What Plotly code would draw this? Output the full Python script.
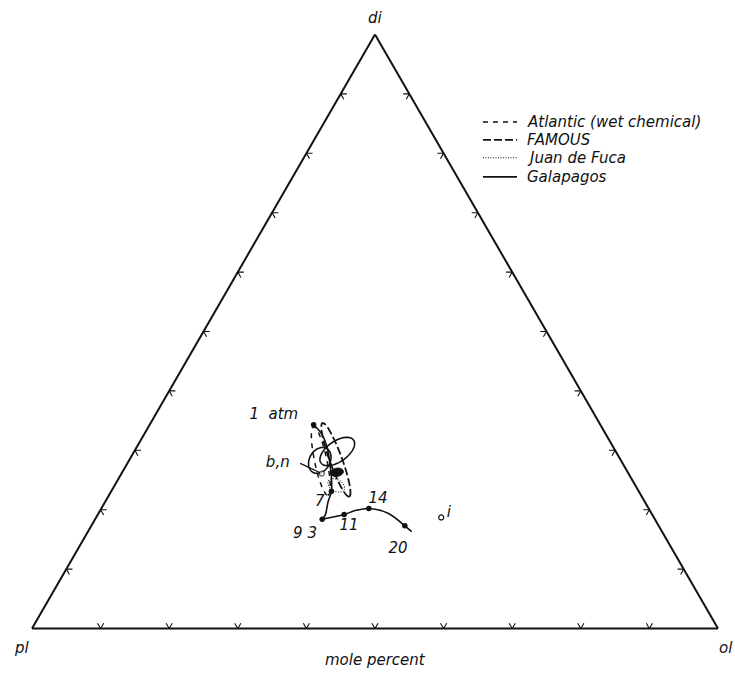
import math
import plotly.graph_objects as go

# Compositions are in mole percent: di (top), pl (bottom left), ol (bottom right).
# pl is the remainder 100 - di - ol.

# Experimental cotectic trace from 1 atm down to the 9/3 kbar point
trunk_di = [34.3, 32.8, 30.6, 27.5, 25.3, 23.1, 21.3, 19.1, 18.4]
trunk_ol = [23.9, 25.8, 27.7, 29.7, 31.0, 32.1, 32.5, 33.2, 33.1]

# High-pressure trace from 9/3 kbar to beyond 20 kbar
hp_di = [18.4, 19.2, 19.9, 20.2, 19.4, 17.3, 16.3]
hp_ol = [33.1, 35.9, 37.3, 39.0, 42.2, 45.7, 47.2]

# Labelled pressure points (kbar)
press_labels = ["1 atm", "7", "9 3", "11", "14", "20"]
press_di = [34.3, 23.1, 18.4, 19.2, 20.2, 17.3]
press_ol = [23.9, 32.1, 33.1, 35.9, 39.0, 45.7]

# Isolated composition i
pt_i_di = [18.7]
pt_i_ol = [50.3]

# b,n composition and the start of its leader line
bn_di = [27.8, 26.1]
bn_ol = [25.2, 29.2]

# Solid cluster centre
blob_di = 26.3
blob_ol = 31.3

# Glass compositional fields (ellipses): centre, semi-axes (mol %), tilt (deg)
ell_suite = ["Galapagos", "Galapagos", "FAMOUS", "Atlantic (wet chemical)", "Juan de Fuca"]
ell_di = [29.8, 28.3, 28.4, 28.2, 24.1]
ell_ol = [29.6, 27.8, 30.1, 28.0, 32.3]
ell_major = [2.9, 2.0, 5.7, 5.1, 1.3]
ell_minor = [1.5, 1.5, 0.9, 0.9, 0.85]
ell_angle = [35, 60, -70, -78, -30]

# Legend order and line styles of the suites
suite_order = ["Atlantic (wet chemical)", "FAMOUS", "Juan de Fuca", "Galapagos"]
suite_dash = {
    "Atlantic (wet chemical)": "5px,5px",
    "FAMOUS": "8px,3px",
    "Juan de Fuca": "1px,1.5px",
    "Galapagos": "solid",
}
suite_width = {
    "Atlantic (wet chemical)": 1.5,
    "FAMOUS": 1.8,
    "Juan de Fuca": 1.1,
    "Galapagos": 1.6,
}

tick_values = [10, 20, 30, 40, 50, 60, 70, 80, 90]

FONT = "DejaVu Sans"
INK = "#111111"
TXT = dict(family=FONT, size=15, color=INK)

# Where each label sits relative to its point, in mol % (d_di, d_ol)
label_offset = {
    "1 atm": (1.6, -6.6),
    "7": (-1.8, -0.8),
    "9 3": (-2.5, -1.25),
    "11": (-1.95, 1.7),
    "14": (1.6, 0.55),
    "20": (-3.9, 0.95),
    "i": (0.7, 0.75),
    "b,n": (0.05, -3.3),
}


def pl_of(di, ol):
    return [None if a is None else round(100 - a - c, 3) for a, c in zip(di, ol)]


def tern_ellipse(di0, ol0, major, minor, angle, n=120):
    th = math.radians(angle)
    di, ol = [], []
    for k in range(n + 1):
        t = 2 * math.pi * k / n
        dx = major * math.cos(th) * math.cos(t) - minor * math.sin(th) * math.sin(t)
        dy = major * math.sin(th) * math.cos(t) + minor * math.cos(th) * math.sin(t)
        da = dy / (math.sqrt(3) / 2)
        dc = dx - da / 2
        di.append(di0 + da)
        ol.append(ol0 + dc)
    return di, ol


fig = go.Figure()

# Chevron tick marks every 10 % on each side of the triangle
arm = 0.9
tk_a, tk_b, tk_c = [], [], []


def chevron(p1, v, p2):
    for p in (p1, v, p2):
        tk_a.append(p[0]); tk_b.append(p[1]); tk_c.append(p[2])
    tk_a.append(None); tk_b.append(None); tk_c.append(None)


for v in tick_values:
    # bottom side (di = 0)
    chevron((arm, 100 - v - arm, v), (0, 100 - v, v), (arm, 100 - v, v - arm))
    # left side (ol = 0)
    chevron((v, 100 - v - arm, arm), (v, 100 - v, 0), (v - arm, 100 - v, arm))
    # right side (pl = 0)
    chevron((v, arm, 100 - v - arm), (v, 0, 100 - v), (v - arm, arm, 100 - v))

fig.add_trace(go.Scatterternary(
    a=tk_a, b=tk_b, c=tk_c, mode="lines",
    line=dict(color=INK, width=1.1), showlegend=False, hoverinfo="skip",
))

# Compositional fields
for s, d0, o0, ma, mi, ang in zip(ell_suite, ell_di, ell_ol, ell_major, ell_minor, ell_angle):
    ed, eo = tern_ellipse(d0, o0, ma, mi, ang)
    fig.add_trace(go.Scatterternary(
        a=ed, b=pl_of(ed, eo), c=eo, mode="lines", name=s, showlegend=False,
        line=dict(color=INK, width=suite_width[s], dash=suite_dash[s]),
    ))

# Cotectic traces
for cd, co in ((trunk_di, trunk_ol), (hp_di, hp_ol)):
    fig.add_trace(go.Scatterternary(
        a=cd, b=pl_of(cd, co), c=co, mode="lines",
        line=dict(color=INK, width=1.6, shape="spline"), showlegend=False,
    ))

# Solid cluster
bd, bo = tern_ellipse(blob_di, blob_ol, 0.95, 0.6, 10, n=40)
fig.add_trace(go.Scatterternary(
    a=bd, b=pl_of(bd, bo), c=bo, mode="lines", fill="toself",
    fillcolor=INK, line=dict(color=INK, width=1), showlegend=False,
))

# b,n leader and point
fig.add_trace(go.Scatterternary(
    a=bn_di, b=pl_of(bn_di, bn_ol), c=bn_ol, mode="lines+markers",
    line=dict(color=INK, width=1.3),
    marker=dict(size=[0, 5], color="white", line=dict(color=INK, width=1.2)),
    showlegend=False,
))

# Pressure points
fig.add_trace(go.Scatterternary(
    a=press_di, b=pl_of(press_di, press_ol), c=press_ol, mode="markers",
    marker=dict(size=5.5, color=INK), showlegend=False,
))

# Point i
fig.add_trace(go.Scatterternary(
    a=pt_i_di, b=pl_of(pt_i_di, pt_i_ol), c=pt_i_ol, mode="markers",
    marker=dict(size=5, color="white", line=dict(color=INK, width=1.2)),
    showlegend=False,
))

# Point labels
lab_text = press_labels + ["i", "b,n"]
lab_base_di = press_di + pt_i_di + [bn_di[0]]
lab_base_ol = press_ol + pt_i_ol + [bn_ol[0]]
lab_di = [d + label_offset[t][0] for t, d in zip(lab_text, lab_base_di)]
lab_ol = [o + label_offset[t][1] for t, o in zip(lab_text, lab_base_ol)]
fig.add_trace(go.Scatterternary(
    a=lab_di, b=pl_of(lab_di, lab_ol), c=lab_ol, mode="text",
    text=[f"<i>{t.replace(' atm', '&nbsp;&nbsp;atm')}</i>" for t in lab_text],
    textposition="middle center", textfont=TXT, showlegend=False,
))

axis_style = dict(
    min=0, showgrid=False, showticklabels=False, ticks="",
    showline=True, linecolor=INK, linewidth=2, title=dict(text=""),
)

# Legend drawn as line samples plus italic captions (paper coordinates)
leg_y = [0.851, 0.821, 0.791, 0.759]
leg_x0, leg_x1, leg_tx = 0.6574, 0.707, 0.7187
shapes = []
annotations = []
for s, y in zip(suite_order, leg_y):
    shapes.append(dict(
        type="line", xref="paper", yref="paper", x0=leg_x0, x1=leg_x1, y0=y, y1=y,
        line=dict(color=INK, width=suite_width[s], dash=suite_dash[s]),
    ))
    annotations.append(dict(
        text=f"<i>{s}</i>", x=leg_tx, y=y, xref="paper", yref="paper",
        xanchor="left", yanchor="middle", showarrow=False, font=TXT,
    ))

# Corner and axis captions
for txt, x, y in (("di", 0.5, 1.025), ("pl", -0.015, -0.030),
                  ("ol", 1.011, -0.030), ("mole percent", 0.5, -0.050)):
    annotations.append(dict(
        text=f"<i>{txt}</i>", x=x, y=y, xref="paper", yref="paper",
        xanchor="center", yanchor="middle", showarrow=False, font=TXT,
    ))

fig.update_layout(
    width=735, height=673,
    margin=dict(l=32, r=17, t=33, b=43),
    paper_bgcolor="white",
    ternary=dict(
        sum=100, bgcolor="white",
        aaxis=axis_style, baxis=axis_style, caxis=axis_style,
    ),
    showlegend=False,
    shapes=shapes,
    annotations=annotations,
)

fig.write_html("out.html")
